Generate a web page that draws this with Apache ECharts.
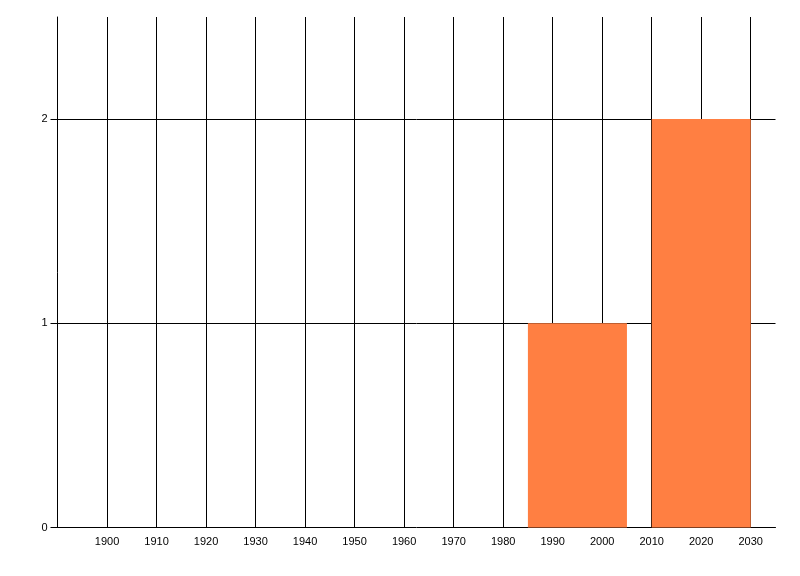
<!DOCTYPE html>
<html><head><meta charset="utf-8">
<script src="https://cdn.jsdelivr.net/npm/echarts@6/dist/echarts.min.js"></script>
<style>html,body{margin:0;padding:0;background:#fff}#c{width:800px;height:576px}</style>
</head><body><div id="c"></div>
<script>
const binStarts = [1985, 2010];
const binEnds = [2005, 2030];
const counts = [1, 2];
const xMin = 1890, xMax = 2035, xStep = 10;
const yMax = 2.5, yStep = 1;

const data = binStarts.map((s, i) => [s, binEnds[i], counts[i]]);
const chart = echarts.init(document.getElementById('c'), null, {renderer: 'canvas'});
const font = 'Liberation Sans';
chart.setOption({
  animation: false,
  backgroundColor: '#fff',
  grid: {left: 57.5, top: 17, width: 718, height: 510.5, containLabel: false},
  xAxis: {
    type: 'value', min: xMin, max: xMax, interval: xStep,
    axisLine: {show: true, lineStyle: {color: '#000', width: 1}},
    axisTick: {show: false},
    axisLabel: {show: true, color: '#000', fontFamily: font, fontSize: 11, margin: 9, showMinLabel: false, showMaxLabel: false,
      formatter: v => (v % 10 === 0 && v > xMin) ? String(v) : ''},
    splitLine: {show: true, showMinLine: false, showMaxLine: false, lineStyle: {color: '#000', width: 1}}
  },
  yAxis: {
    type: 'value', min: 0, max: yMax, interval: yStep,
    axisLine: {show: true, lineStyle: {color: '#000', width: 1}},
    axisTick: {show: true, length: 7, lineStyle: {color: '#000'}},
    axisLabel: {color: '#000', fontFamily: font, fontSize: 11, margin: 10, showMaxLabel: false,
      formatter: v => Number.isInteger(v) ? String(v) : ''},
    splitLine: {show: true, showMinLine: false, showMaxLine: false, lineStyle: {color: '#000', width: 1}}
  },
  series: [{
    type: 'custom',
    data: data,
    encode: {x: [0, 1], y: 2},
    renderItem: function (params, api) {
      const p0 = api.coord([api.value(0), 0]);
      const p1 = api.coord([api.value(1), api.value(2)]);
      return {
        type: 'rect',
        shape: {x: p0[0], y: p1[1], width: p1[0] - p0[0], height: p0[1] - p1[1]},
        style: {fill: '#ff7f42'}
      };
    }
  }]
});
</script></body></html>
